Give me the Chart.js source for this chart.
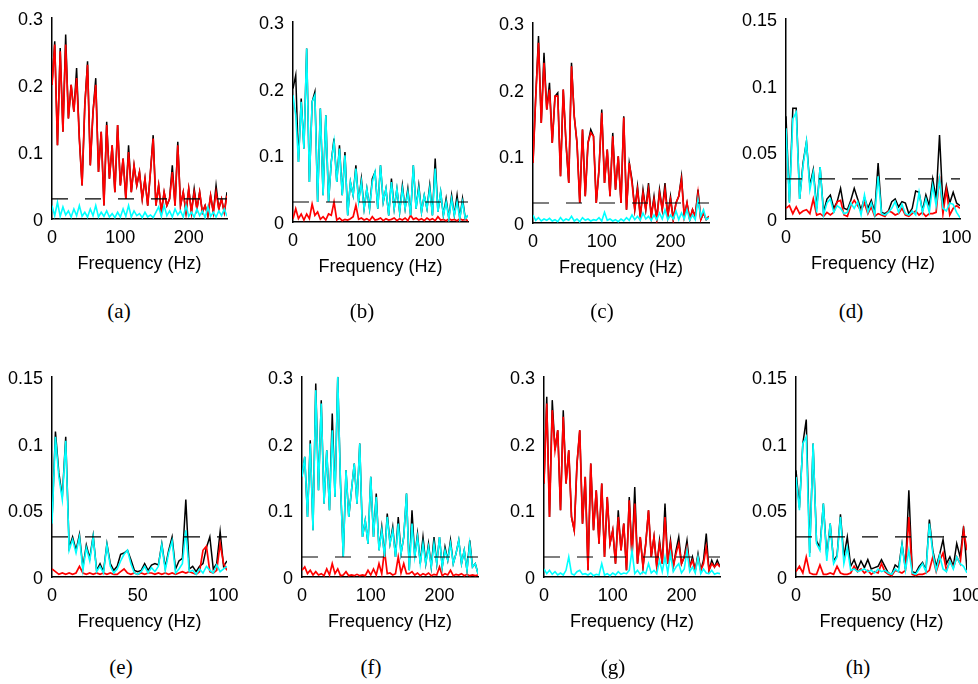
<!DOCTYPE html>
<html>
<head>
<meta charset="utf-8">
<script src="https://cdn.jsdelivr.net/npm/chart.js@4.4.1/dist/chart.umd.min.js"></script>
<style>
    body { margin: 0; background: #fff; overflow: hidden; }
    #page { position: relative; width: 978px; height: 684px; overflow: hidden; background: #fff; }
    #page canvas { position: absolute; }
    .cap {
        position: absolute;
        font-family: "Liberation Serif", "Times New Roman", serif;
        font-size: 21px;
        line-height: 1;
        transform: translate(-50%, -50%);
        color: #000;
    }
</style>
</head>
<body>
<div id="page"></div>
<script>
// frequency grids (Hz)
const freqHigh = [
    0, 4, 8, 12, 16, 20, 24, 28, 32, 36, 40, 44, 48,
    52, 56, 60, 64, 68, 72, 76, 80, 84, 88, 92, 96, 100,
    104, 108, 112, 116, 120, 124, 128, 132, 136, 140, 144, 148, 152,
    156, 160, 164, 168, 172, 176, 180, 184, 188, 192, 196, 200, 204,
    208, 212, 216, 220, 224, 228, 232, 236, 240, 244, 248, 252, 256
];
const freqLow = [
    0, 2, 4, 6, 8, 10, 12, 14, 16, 18, 20, 22, 24,
    26, 28, 30, 32, 34, 36, 38, 40, 42, 44, 46, 48, 50,
    52, 54, 56, 58, 60, 62, 64, 66, 68, 70, 72, 74, 76,
    78, 80, 82, 84, 86, 88, 90, 92, 94, 96, 98, 100, 102
];

const thresholdLevel = 0.03;
const yTicksHigh = [0, 0.1, 0.2, 0.3];
const yTicksLow = [0, 0.05, 0.1, 0.15];
const xTicksHigh = [0, 100, 200];
const xTicksLow = [0, 50, 100];
const captions = ["(a)", "(b)", "(c)", "(d)", "(e)", "(f)", "(g)", "(h)"];

// (a)
const aBlack = [
    0.2, 0.265, 0.11, 0.255, 0.13, 0.275, 0.15, 0.2, 0.16, 0.225, 0.12, 0.05, 0.17,
    0.235, 0.08, 0.16, 0.21, 0.07, 0.13, 0.02, 0.145, 0.06, 0.11, 0.04, 0.14, 0.05,
    0.09, 0.03, 0.11, 0.04, 0.08, 0.05, 0.07, 0.03, 0.06, 0.02, 0.07, 0.125, 0.02,
    0.05, 0.01, 0.04, 0.02, 0.03, 0.08, 0.02, 0.115, 0.02, 0.04, 0.01, 0.045, 0.01,
    0.045, 0.015, 0.04, 0.01, 0.02, 0.005, 0.035, 0.01, 0.05, 0.015, 0.03, 0.01, 0.04
];
const aRed = [
    0.2, 0.26, 0.11, 0.25, 0.13, 0.26, 0.15, 0.2, 0.16, 0.21, 0.12, 0.05, 0.17,
    0.23, 0.08, 0.16, 0.2, 0.07, 0.13, 0.02, 0.14, 0.06, 0.11, 0.04, 0.14, 0.05,
    0.09, 0.03, 0.1, 0.04, 0.08, 0.05, 0.07, 0.03, 0.06, 0.02, 0.07, 0.12, 0.02,
    0.05, 0.01, 0.04, 0.02, 0.03, 0.07, 0.02, 0.11, 0.02, 0.04, 0.01, 0.045, 0.01,
    0.04, 0.015, 0.04, 0.01, 0.02, 0.005, 0.035, 0.01, 0.04, 0.015, 0.03, 0.01, 0.035
];
const aCyan = [
    0.02, 0.005, 0.025, 0.004, 0.018, 0.006, 0.012, 0.003, 0.015, 0.005, 0.02, 0.004, 0.01,
    0.003, 0.015, 0.005, 0.02, 0.003, 0.01, 0.004, 0.012, 0.003, 0.008, 0.002, 0.01, 0.003,
    0.015, 0.004, 0.02, 0.003, 0.012, 0.005, 0.008, 0.002, 0.01, 0.003, 0.006, 0.002, 0.01,
    0.018, 0.004, 0.02, 0.005, 0.012, 0.003, 0.015, 0.006, 0.012, 0.003, 0.02, 0.004, 0.01,
    0.003, 0.015, 0.005, 0.012, 0.002, 0.018, 0.004, 0.01, 0.003, 0.012, 0.005, 0.015, 0.004
];

// (b)
const bBlack = [
    0.2, 0.22, 0.09, 0.185, 0.11, 0.26, 0.06, 0.18, 0.195, 0.03, 0.17, 0.04, 0.16,
    0.03, 0.09, 0.125, 0.06, 0.115, 0.04, 0.105, 0.01, 0.06, 0.04, 0.085, 0.03, 0.065,
    0.02, 0.05, 0.02, 0.065, 0.075, 0.02, 0.085, 0.03, 0.05, 0.01, 0.065, 0.02, 0.05,
    0.015, 0.055, 0.02, 0.05, 0.01, 0.085, 0.02, 0.055, 0.015, 0.04, 0.02, 0.055, 0.01,
    0.095, 0.015, 0.045, 0.01, 0.035, 0.005, 0.04, 0.01, 0.04, 0.005, 0.035, 0.005, 0.01
];
const bRed = [
    0.005, 0.02, 0.005, 0.012, 0.003, 0.012, 0.005, 0.027, 0.01, 0.015, 0.004, 0.008, 0.003,
    0.012, 0.01, 0.03, 0.003, 0.006, 0.002, 0.004, 0.003, 0.005, 0.008, 0.025, 0.004, 0.006,
    0.003, 0.005, 0.002, 0.008, 0.003, 0.004, 0.006, 0.002, 0.005, 0.003, 0.004, 0.006, 0.002,
    0.005, 0.003, 0.006, 0.002, 0.01, 0.004, 0.006, 0.003, 0.005, 0.002, 0.006, 0.003, 0.005,
    0.002, 0.008, 0.003, 0.004, 0.002, 0.005, 0.003, 0.004, 0.002, 0.005, 0.003, 0.004, 0.002
];
const bCyan = [
    0.19, 0.16, 0.09, 0.18, 0.11, 0.26, 0.06, 0.18, 0.19, 0.03, 0.17, 0.04, 0.16,
    0.03, 0.09, 0.12, 0.06, 0.11, 0.04, 0.1, 0.01, 0.06, 0.04, 0.08, 0.03, 0.06,
    0.02, 0.05, 0.02, 0.06, 0.075, 0.02, 0.085, 0.03, 0.05, 0.01, 0.06, 0.02, 0.05,
    0.015, 0.05, 0.02, 0.045, 0.01, 0.085, 0.02, 0.05, 0.015, 0.04, 0.02, 0.05, 0.01,
    0.08, 0.015, 0.045, 0.01, 0.03, 0.005, 0.035, 0.01, 0.03, 0.005, 0.03, 0.005, 0.01
];

// (c)
const cBlack = [
    0.09, 0.19, 0.28, 0.15, 0.255, 0.17, 0.21, 0.12, 0.19, 0.195, 0.07, 0.2, 0.12,
    0.06, 0.24, 0.16, 0.12, 0.03, 0.14, 0.04, 0.12, 0.14, 0.13, 0.03, 0.08, 0.17,
    0.06, 0.11, 0.04, 0.135, 0.05, 0.1, 0.03, 0.16, 0.02, 0.09, 0.065, 0.02, 0.055,
    0.01, 0.05, 0.02, 0.06, 0.01, 0.04, 0.005, 0.05, 0.02, 0.06, 0.01, 0.04, 0.005,
    0.03, 0.04, 0.07, 0.01, 0.03, 0.005, 0.02, 0.01, 0.05, 0.005, 0.015, 0.005, 0.01
];
const cRed = [
    0.09, 0.19, 0.27, 0.15, 0.24, 0.17, 0.2, 0.12, 0.19, 0.19, 0.07, 0.2, 0.12,
    0.06, 0.235, 0.16, 0.12, 0.03, 0.14, 0.04, 0.12, 0.135, 0.13, 0.03, 0.08, 0.165,
    0.06, 0.11, 0.04, 0.13, 0.05, 0.1, 0.03, 0.158, 0.02, 0.09, 0.06, 0.02, 0.05,
    0.01, 0.045, 0.02, 0.05, 0.01, 0.035, 0.005, 0.045, 0.02, 0.05, 0.01, 0.035, 0.005,
    0.03, 0.04, 0.065, 0.01, 0.03, 0.005, 0.02, 0.01, 0.045, 0.005, 0.015, 0.005, 0.01
];
const cCyan = [
    0.012, 0.004, 0.008, 0.003, 0.006, 0.004, 0.007, 0.003, 0.005, 0.002, 0.008, 0.003, 0.006,
    0.004, 0.01, 0.003, 0.006, 0.002, 0.008, 0.004, 0.006, 0.003, 0.005, 0.004, 0.008, 0.003,
    0.016, 0.004, 0.006, 0.003, 0.005, 0.002, 0.006, 0.003, 0.008, 0.004, 0.012, 0.005, 0.01,
    0.004, 0.015, 0.006, 0.01, 0.004, 0.012, 0.005, 0.015, 0.006, 0.02, 0.005, 0.012, 0.006,
    0.018, 0.005, 0.015, 0.006, 0.02, 0.004, 0.012, 0.005, 0.035, 0.01, 0.02, 0.005, 0.008
];

// (d)
const dBlack = [
    0.077, 0.013, 0.083, 0.083, 0.015, 0.042, 0.058, 0.025, 0.037, 0.008, 0.039, 0.005, 0.015,
    0.018, 0.008, 0.013, 0.023, 0.008, 0.007, 0.014, 0.023, 0.015, 0.007, 0.016, 0.008, 0.014,
    0.005, 0.042, 0.005, 0.004, 0.006, 0.013, 0.015, 0.009, 0.013, 0.012, 0.004, 0.008, 0.021,
    0.02, 0.006, 0.018, 0.01, 0.03, 0.015, 0.063, 0.01, 0.025, 0.012, 0.02, 0.012, 0.01
];
const dRed = [
    0.008, 0.01, 0.004, 0.009, 0.004, 0.006, 0.007, 0.004, 0.015, 0.003, 0.004, 0.002, 0.005,
    0.003, 0.005, 0.013, 0.014, 0.003, 0.002, 0.01, 0.014, 0.01, 0.006, 0.012, 0.004, 0.009,
    0.002, 0.004, 0.003, 0.002, 0.006, 0.005, 0.003, 0.004, 0.008, 0.003, 0.002, 0.004, 0.006,
    0.003, 0.005, 0.002, 0.004, 0.004, 0.005, 0.032, 0.004, 0.022, 0.003, 0.008, 0.01, 0.008
];
const dCyan = [
    0.068, 0.012, 0.075, 0.08, 0.015, 0.04, 0.058, 0.022, 0.035, 0.005, 0.039, 0.003, 0.012,
    0.015, 0.005, 0.01, 0.008, 0.004, 0.005, 0.012, 0.008, 0.013, 0.003, 0.018, 0.005, 0.012,
    0.003, 0.032, 0.004, 0.003, 0.005, 0.008, 0.013, 0.005, 0.011, 0.004, 0.003, 0.006, 0.003,
    0.02, 0.005, 0.015, 0.005, 0.025, 0.01, 0.03, 0.008, 0.006, 0.012, 0.011, 0.005, 0.001
];

// (e)
const eBlack = [
    0.042, 0.109, 0.078, 0.06, 0.105, 0.022, 0.03, 0.02, 0.032, 0.007, 0.024, 0.014, 0.031,
    0.005, 0.01, 0.004, 0.025, 0.01, 0.005, 0.008, 0.017, 0.018, 0.02, 0.013, 0.005, 0.004,
    0.005, 0.01, 0.005, 0.009, 0.01, 0.009, 0.025, 0.007, 0.02, 0.03, 0.006, 0.012, 0.014,
    0.058, 0.006, 0.008, 0.004, 0.008, 0.01, 0.022, 0.03, 0.006, 0.01, 0.034, 0.008, 0.012
];
const eRed = [
    0.006, 0.004, 0.002, 0.003, 0.002, 0.003, 0.002, 0.003, 0.008, 0.003, 0.002, 0.003, 0.002,
    0.003, 0.002, 0.003, 0.002, 0.003, 0.002, 0.002, 0.004, 0.006, 0.003, 0.002, 0.003, 0.002,
    0.003, 0.002, 0.003, 0.003, 0.002, 0.003, 0.002, 0.003, 0.002, 0.003, 0.002, 0.003, 0.004,
    0.003, 0.004, 0.003, 0.002, 0.004, 0.02, 0.023, 0.004, 0.003, 0.005, 0.025, 0.01, 0.005
];
const eCyan = [
    0.04, 0.105, 0.075, 0.058, 0.102, 0.02, 0.028, 0.018, 0.03, 0.005, 0.022, 0.012, 0.03,
    0.004, 0.008, 0.003, 0.024, 0.008, 0.003, 0.006, 0.012, 0.017, 0.02, 0.01, 0.003, 0.002,
    0.004, 0.008, 0.003, 0.007, 0.004, 0.008, 0.024, 0.005, 0.018, 0.027, 0.003, 0.006, 0.01,
    0.035, 0.004, 0.005, 0.002, 0.006, 0.003, 0.008, 0.005, 0.003, 0.009, 0.004, 0.006, 0.008
];

// (f)
const fBlack = [
    0.15, 0.18, 0.09, 0.205, 0.07, 0.29, 0.13, 0.265, 0.11, 0.19, 0.1, 0.245, 0.12,
    0.3, 0.14, 0.03, 0.16, 0.09, 0.13, 0.17, 0.11, 0.2, 0.06, 0.085, 0.05, 0.15,
    0.06, 0.125, 0.04, 0.075, 0.03, 0.095, 0.05, 0.075, 0.03, 0.09, 0.035, 0.06, 0.125,
    0.01, 0.1, 0.03, 0.065, 0.02, 0.06, 0.02, 0.05, 0.015, 0.06, 0.02, 0.06, 0.015,
    0.045, 0.025, 0.055, 0.02, 0.035, 0.055, 0.02, 0.04, 0.01, 0.055, 0.015, 0.02, 0.005
];
const fRed = [
    0.01, 0.015, 0.005, 0.01, 0.003, 0.008, 0.003, 0.005, 0.002, 0.012, 0.003, 0.02, 0.005,
    0.012, 0.002, 0.003, 0.008, 0.002, 0.003, 0.002, 0.004, 0.002, 0.003, 0.002, 0.01, 0.003,
    0.012, 0.003, 0.02, 0.005, 0.04, 0.005, 0.006, 0.003, 0.005, 0.03, 0.006, 0.02, 0.005,
    0.005, 0.008, 0.003, 0.006, 0.002, 0.005, 0.003, 0.006, 0.002, 0.004, 0.003, 0.015, 0.002,
    0.005, 0.003, 0.01, 0.002, 0.004, 0.003, 0.005, 0.002, 0.004, 0.002, 0.003, 0.002, 0.003
];
const fCyan = [
    0.15, 0.18, 0.09, 0.2, 0.07, 0.28, 0.13, 0.26, 0.11, 0.19, 0.1, 0.22, 0.12,
    0.3, 0.14, 0.03, 0.16, 0.09, 0.13, 0.17, 0.11, 0.2, 0.06, 0.085, 0.05, 0.15,
    0.06, 0.12, 0.04, 0.07, 0.03, 0.09, 0.05, 0.07, 0.03, 0.08, 0.035, 0.06, 0.125,
    0.01, 0.08, 0.03, 0.06, 0.02, 0.05, 0.02, 0.045, 0.015, 0.05, 0.02, 0.06, 0.015,
    0.04, 0.025, 0.05, 0.02, 0.035, 0.055, 0.02, 0.04, 0.01, 0.05, 0.015, 0.02, 0.005
];

// (g)
const gBlack = [
    0.14, 0.27, 0.09, 0.265, 0.19, 0.22, 0.1, 0.25, 0.14, 0.19, 0.09, 0.07, 0.17,
    0.22, 0.08, 0.15, 0.01, 0.17, 0.07, 0.13, 0.05, 0.14, 0.03, 0.12, 0.05, 0.07,
    0.02, 0.1, 0.04, 0.08, 0.01, 0.12, 0.03, 0.135, 0.02, 0.06, 0.015, 0.05, 0.1,
    0.03, 0.06, 0.015, 0.055, 0.02, 0.11, 0.02, 0.055, 0.015, 0.04, 0.06, 0.02, 0.03,
    0.055, 0.015, 0.03, 0.01, 0.035, 0.01, 0.025, 0.065, 0.01, 0.025, 0.015, 0.025, 0.015
];
const gRed = [
    0.14, 0.26, 0.09, 0.25, 0.19, 0.22, 0.1, 0.24, 0.14, 0.19, 0.09, 0.07, 0.17,
    0.22, 0.08, 0.15, 0.01, 0.17, 0.07, 0.13, 0.05, 0.14, 0.03, 0.12, 0.05, 0.07,
    0.02, 0.09, 0.04, 0.08, 0.01, 0.115, 0.03, 0.11, 0.02, 0.06, 0.015, 0.05, 0.1,
    0.03, 0.06, 0.015, 0.05, 0.02, 0.09, 0.02, 0.05, 0.015, 0.035, 0.05, 0.02, 0.03,
    0.045, 0.015, 0.025, 0.01, 0.03, 0.01, 0.02, 0.045, 0.01, 0.02, 0.015, 0.02, 0.015
];
const gCyan = [
    0.012, 0.005, 0.01, 0.004, 0.008, 0.003, 0.006, 0.003, 0.01, 0.03, 0.005, 0.003, 0.008,
    0.01, 0.004, 0.005, 0.003, 0.006, 0.002, 0.004, 0.003, 0.02, 0.003, 0.005, 0.002, 0.006,
    0.003, 0.008, 0.004, 0.006, 0.005, 0.01, 0.04, 0.005, 0.01, 0.004, 0.008, 0.005, 0.02,
    0.006, 0.01, 0.005, 0.025, 0.008, 0.03, 0.006, 0.035, 0.008, 0.015, 0.02, 0.006, 0.012,
    0.04, 0.008, 0.015, 0.006, 0.03, 0.005, 0.012, 0.006, 0.005, 0.01, 0.004, 0.006, 0.005
];

// (h)
const hBlack = [
    0.08, 0.052, 0.1, 0.118, 0.018, 0.1, 0.027, 0.022, 0.055, 0.015, 0.04, 0.012, 0.016,
    0.047, 0.015, 0.03, 0.008, 0.013, 0.006, 0.012, 0.007, 0.013, 0.006, 0.007, 0.008, 0.013,
    0.008, 0.003, 0.002, 0.009, 0.007, 0.025, 0.006, 0.065, 0.004, 0.003, 0.008, 0.011, 0.005,
    0.043, 0.02, 0.008, 0.017, 0.028, 0.01, 0.015, 0.008, 0.025, 0.015, 0.038, 0.005
];
const hRed = [
    0.004, 0.008, 0.003, 0.015, 0.003, 0.002, 0.002, 0.009, 0.002, 0.002, 0.003, 0.002, 0.008,
    0.003, 0.002, 0.002, 0.003, 0.008, 0.004, 0.006, 0.003, 0.005, 0.002, 0.004, 0.003, 0.01,
    0.004, 0.002, 0.001, 0.005, 0.004, 0.003, 0.005, 0.045, 0.002, 0.001, 0.002, 0.002, 0.003,
    0.005, 0.015, 0.004, 0.012, 0.018, 0.005, 0.012, 0.007, 0.015, 0.01, 0.035, 0.02
];
const hCyan = [
    0.075, 0.05, 0.1, 0.105, 0.015, 0.1, 0.025, 0.02, 0.055, 0.012, 0.04, 0.01, 0.015,
    0.045, 0.01, 0.022, 0.005, 0.006, 0.004, 0.005, 0.006, 0.004, 0.005, 0.003, 0.006, 0.004,
    0.005, 0.003, 0.002, 0.006, 0.004, 0.024, 0.005, 0.02, 0.003, 0.002, 0.006, 0.01, 0.004,
    0.04, 0.018, 0.005, 0.016, 0.006, 0.004, 0.012, 0.006, 0.015, 0.01, 0.008, 0.003
];

// layout: plot box [left, top, right, bottom] in page pixels, caption centre
const Y_W = 50, PAD_T = 12, PAD_R = 22, X_H = 62;
const panels = [
    {black: aBlack, red: aRed, cyan: aCyan, freq: freqHigh, xMax: 256, xTicks: xTicksHigh, yMax: 0.3, yTicks: yTicksHigh, box: [52, 10, 227, 219], cap: [119, 311]},
    {black: bBlack, red: bRed, cyan: bCyan, freq: freqHigh, xMax: 256, xTicks: xTicksHigh, yMax: 0.3, yTicks: yTicksHigh, box: [293, 14, 468, 222], cap: [362, 311]},
    {black: cBlack, red: cRed, cyan: cCyan, freq: freqHigh, xMax: 256, xTicks: xTicksHigh, yMax: 0.3, yTicks: yTicksHigh, box: [533, 15, 709, 223], cap: [602, 311]},
    {black: dBlack, red: dRed, cyan: dCyan, freq: freqLow, xMax: 102, xTicks: xTicksLow, yMax: 0.15, yTicks: yTicksLow, box: [786, 11, 960, 219], cap: [851, 311]},
    {black: eBlack, red: eRed, cyan: eCyan, freq: freqLow, xMax: 102, xTicks: xTicksLow, yMax: 0.15, yTicks: yTicksLow, box: [52, 369, 227, 577], cap: [121, 667]},
    {black: fBlack, red: fRed, cyan: fCyan, freq: freqHigh, xMax: 256, xTicks: xTicksHigh, yMax: 0.3, yTicks: yTicksHigh, box: [302, 369, 478, 577], cap: [371, 667]},
    {black: gBlack, red: gRed, cyan: gCyan, freq: freqHigh, xMax: 256, xTicks: xTicksHigh, yMax: 0.3, yTicks: yTicksHigh, box: [544, 369, 720, 577], cap: [613, 667]},
    {black: hBlack, red: hRed, cyan: hCyan, freq: freqLow, xMax: 100, xTicks: xTicksLow, yMax: 0.15, yTicks: yTicksLow, box: [796, 369, 968, 577], cap: [858, 667]}
];

Chart.defaults.font.family = '"Liberation Sans", Arial, Helvetica, sans-serif';
Chart.defaults.color = "#000";

function toPoints(freq, values) {
    return values.map((v, i) => ({x: freq[i], y: v}));
}

function makePanel(p, idx) {
    const page = document.getElementById("page");
    const [l, t, r, b] = p.box;
    const canvas = document.createElement("canvas");
    canvas.width = Y_W + (r - l) + PAD_R;
    canvas.height = PAD_T + (b - t) + X_H;
    canvas.style.left = (l - Y_W) + "px";
    canvas.style.top = (t - PAD_T) + "px";
    page.appendChild(canvas);

    const line = (data, color, width) => ({
        data: data,
        borderColor: color,
        backgroundColor: "transparent",
        borderWidth: width,
        pointRadius: 0,
        tension: 0,
        fill: false
    });
    const dashed = line([{x: 0, y: thresholdLevel}, {x: p.xMax, y: thresholdLevel}], "#000", 1.2);
    dashed.borderDash = [16, 17];

    new Chart(canvas, {
        type: "line",
        data: {
            datasets: [
                dashed,
                line(toPoints(p.freq, p.cyan), "#00ffff", 1.6),
                line(toPoints(p.freq, p.red), "#ff0000", 1.7),
                line(toPoints(p.freq, p.black), "#000000", 1.5)
            ]
        },
        options: {
            responsive: false,
            animation: false,
            devicePixelRatio: 1,
            layout: {padding: {top: PAD_T, right: PAD_R, left: 0, bottom: 0}},
            plugins: {legend: {display: false}, tooltip: {enabled: false}},
            scales: {
                x: {
                    type: "linear",
                    min: 0,
                    max: p.xMax,
                    afterBuildTicks: (s) => { s.ticks = p.xTicks.map((v) => ({value: v})); },
                    afterFit: (s) => { s.height = X_H; },
                    grid: {display: false, drawTicks: false},
                    border: {display: true, color: "#000", width: 1.5},
                    ticks: {font: {size: 18}, padding: 8, maxRotation: 0, autoSkip: false, callback: (v) => String(v)},
                    title: {display: true, text: "Frequency (Hz)", font: {size: 18}, padding: {top: 0, bottom: 6}}
                },
                y: {
                    min: 0,
                    max: p.yMax,
                    afterBuildTicks: (s) => { s.ticks = p.yTicks.map((v) => ({value: v})); },
                    afterFit: (s) => { s.width = Y_W; },
                    grid: {display: false, drawTicks: false},
                    border: {display: true, color: "#000", width: 1.5},
                    ticks: {font: {size: 18}, padding: 9, labelOffset: 2, autoSkip: false, callback: (v) => String(v)}
                }
            }
        }
    });

    const cap = document.createElement("div");
    cap.className = "cap";
    cap.textContent = captions[idx];
    cap.style.left = p.cap[0] + "px";
    cap.style.top = p.cap[1] + "px";
    page.appendChild(cap);
}

panels.forEach(makePanel);
</script>
</body>
</html>
